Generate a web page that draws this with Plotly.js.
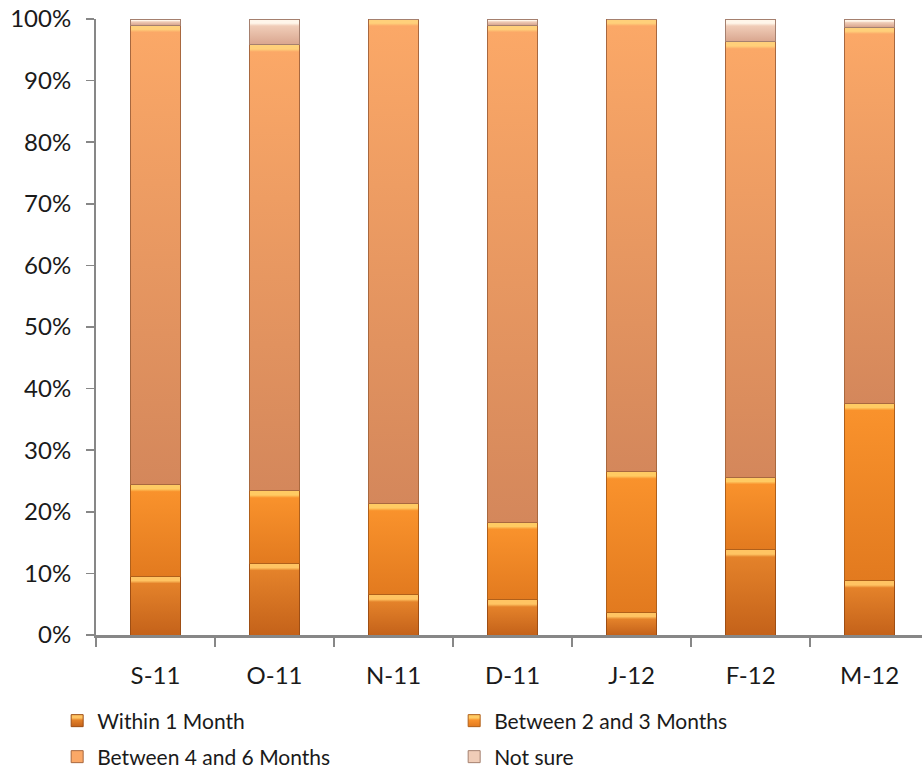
<!DOCTYPE html>
<html>
<head>
<meta charset="utf-8">
<script src="https://cdn.plot.ly/plotly-3.0.1.min.js"></script>
<style>
  html, body { margin: 0; padding: 0; background: #ffffff; }
  #chart { width: 922px; height: 772px; }
</style>
</head>
<body>
<div id="chart"></div>
<script>
// Survey months
const months = ["S-11", "O-11", "N-11", "D-11", "J-12", "F-12", "M-12"];

// Share of answers per month (%)
const within1Month     = [9.5, 11.6, 6.5, 5.7, 3.7, 13.8, 8.8];
const between2and3     = [14.9, 11.8, 14.8, 12.6, 22.8, 11.8, 28.8];
const between4and6     = [74.6, 72.4, 78.7, 80.7, 73.5, 70.7, 61.1];
const notSure          = [1.0, 4.2, 0.0, 1.0, 0.0, 3.7, 1.3];

const seriesNames = ["Within 1 Month", "Between 2 and 3 Months", "Between 4 and 6 Months", "Not sure"];
const yTickVals = [0, 10, 20, 30, 40, 50, 60, 70, 80, 90, 100];
const yTickText = ["0%", "10%", "20%", "30%", "40%", "50%", "60%", "70%", "80%", "90%", "100%"];

// Shading per series: top bevel, body top, body bottom, edge
const shades = [
  { bevel: "#FFC463", top: "#E4822A", bottom: "#C4621A", edge: "#9E4E14" },
  { bevel: "#FFCB63", top: "#F9922C", bottom: "#E27A1F", edge: "#B0601A" },
  { bevel: "#FFD07A", top: "#FBA867", bottom: "#D4875B", edge: "#A8683F" },
  { bevel: "#FFF6EA", top: "#F0CDB8", bottom: "#D9A58E", edge: "#A5806F" }
];

const seriesValues = [within1Month, between2and3, between4and6, notSure];
// Legend rows: first two series on the upper row, last two on the lower row
const legendRow = ["legend", "legend", "legend2", "legend2"];

const traces = seriesValues.map((vals, i) => ({
  type: "bar",
  name: seriesNames[i],
  x: months,
  y: vals,
  legend: legendRow[i],
  marker: { color: shades[i].top, line: { color: shades[i].edge, width: 1 } },
  hoverinfo: "x+y+name"
}));

const font = "Lato, 'Open Sans', sans-serif";

const legendBase = {
  orientation: "h",
  xref: "container", yref: "container",
  x: 0.062, xanchor: "left", yanchor: "middle",
  entrywidth: 352, entrywidthmode: "pixels",
  traceorder: "normal",
  font: { family: font, size: 21, color: "#1a1a1a" },
  bgcolor: "rgba(0,0,0,0)",
  borderwidth: 0
};

const layout = {
  width: 922,
  height: 772,
  barmode: "stack",
  bargap: 0.58,
  margin: { l: 96, r: 0, t: 19, b: 137 },
  paper_bgcolor: "#ffffff",
  plot_bgcolor: "#ffffff",
  font: { family: font, color: "#1a1a1a", size: 24 },
  showlegend: true,
  legend: Object.assign({}, legendBase, { y: 1 - 721 / 772 }),
  legend2: Object.assign({}, legendBase, { y: 1 - 757 / 772 }),
  xaxis: {
    range: [-0.5, 6.44],
    showgrid: false,
    zeroline: false,
    showline: true,
    linecolor: "#878787",
    linewidth: 2.5,
    ticks: "outside",
    tickson: "boundaries",
    ticklen: 9,
    tickwidth: 2,
    tickcolor: "#878787",
    ticklabelstandoff: 18,
    tickfont: { family: font, size: 24, color: "#1a1a1a" },
    fixedrange: true
  },
  yaxis: {
    range: [0, 100],
    tickvals: yTickVals,
    ticktext: yTickText,
    showgrid: false,
    zeroline: false,
    showline: true,
    linecolor: "#878787",
    linewidth: 2,
    ticks: "outside",
    ticklen: 8,
    tickwidth: 1.5,
    tickcolor: "#878787",
    ticklabelstandoff: 10,
    tickfont: { family: font, size: 24, color: "#1a1a1a" },
    fixedrange: true
  }
};

// Bevelled fill for every bar segment: light top edge, darker towards the base
function applyBevel(gd) {
  const svg = gd.querySelector("svg.main-svg");
  if (!svg) return;
  const ns = "http://www.w3.org/2000/svg";
  let defs = svg.querySelector("defs#bevel-defs");
  if (defs) defs.remove();
  defs = document.createElementNS(ns, "defs");
  defs.setAttribute("id", "bevel-defs");
  svg.insertBefore(defs, svg.firstChild);

  function makeGrad(id, s, h) {
    const g = document.createElementNS(ns, "linearGradient");
    g.setAttribute("id", id);
    g.setAttribute("x1", "0"); g.setAttribute("y1", "0");
    g.setAttribute("x2", "0"); g.setAttribute("y2", "1");
    const bev = Math.min(0.45, 7 / Math.max(h, 1));
    const stops = [
      [0, s.bevel],
      [bev * 0.6, s.bevel],
      [bev, s.top],
      [1, s.bottom]
    ];
    stops.forEach(([o, c]) => {
      const st = document.createElementNS(ns, "stop");
      st.setAttribute("offset", o);
      st.setAttribute("stop-color", c);
      g.appendChild(st);
    });
    defs.appendChild(g);
  }

  const groups = gd.querySelectorAll(".barlayer .trace.bars");
  groups.forEach((grp, ti) => {
    const s = shades[ti];
    grp.querySelectorAll(".point path").forEach((p, pi) => {
      let h = 0;
      try { h = p.getBBox().height; } catch (e) {}
      const id = "bev-" + ti + "-" + pi;
      makeGrad(id, s, h);
      p.style.fill = "url(#" + id + ")";
    });
  });

  gd.querySelectorAll(".infolayer .traces").forEach((item, k) => {
    const txt = item.querySelector(".legendtext");
    const ti = txt ? seriesNames.indexOf(txt.textContent) : -1;
    if (ti < 0) return;
    const id = "bev-legend-" + k;
    makeGrad(id, shades[ti], 12);
    item.querySelectorAll(".legendpoints path").forEach(p => {
      p.style.fill = "url(#" + id + ")";
    });
  });
}

const gd = document.getElementById("chart");
Plotly.newPlot(gd, traces, layout, { displayModeBar: false, staticPlot: true })
  .then(() => applyBevel(gd));
</script>
</body>
</html>
